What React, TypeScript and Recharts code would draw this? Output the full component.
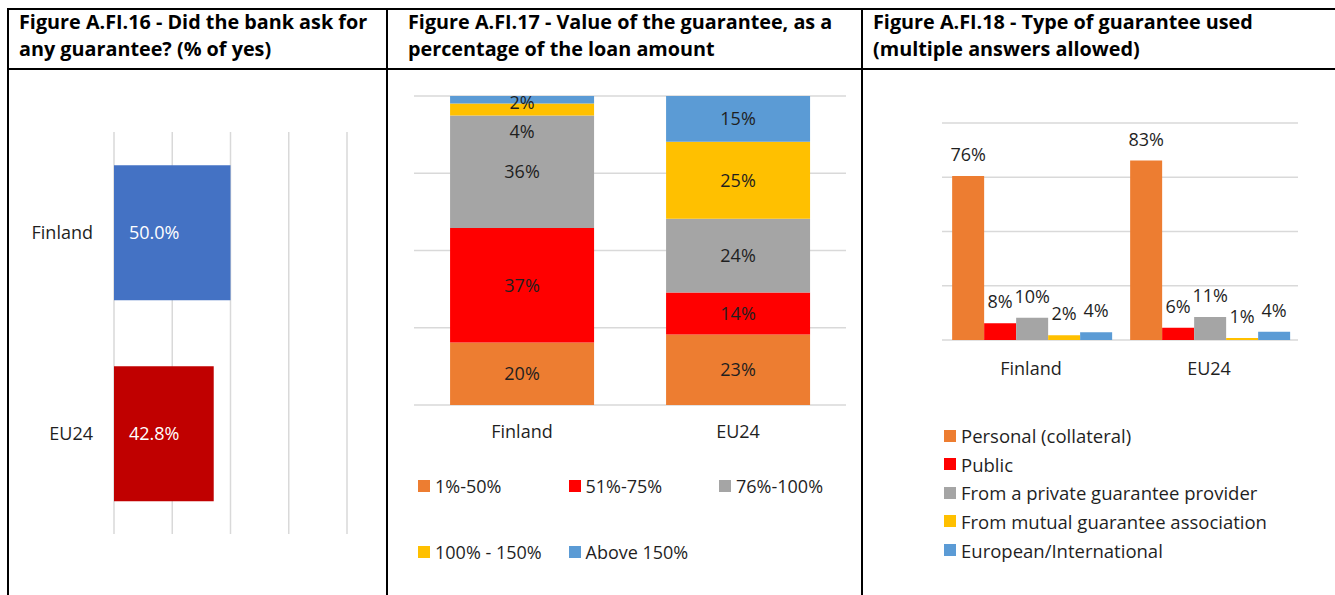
import React from "react";
import { BarChart, Bar, XAxis, YAxis, CartesianGrid, LabelList, Cell } from "recharts";

// Figure A.FI.16 - share of firms asked for a guarantee
const askCountries = ["Finland", "EU24"];
const askYes = [50.0, 42.8];
const askColors = ["#4472C4", "#C00000"];

// Figure A.FI.17 - guarantee value as share of loan
const valueCountries = ["Finland", "EU24"];
const valueBands = ["1%-50%", "51%-75%", "76%-100%", "100% - 150%", "Above 150%"];
const valueFinland = [20.2, 37.1, 36.4, 3.9, 2.4];
const valueEU24 = [22.8, 13.6, 23.9, 24.9, 14.8];

// Figure A.FI.18 - type of guarantee
const typeCountries = ["Finland", "EU24"];
const typeNames = [
  "Personal (collateral)",
  "Public",
  "From a private guarantee provider",
  "From mutual guarantee association",
  "European/International",
];
const typeFinland = [75.6, 7.7, 10.2, 2.2, 3.6];
const typeEU24 = [82.7, 5.7, 10.6, 0.9, 3.8];

const percentTicks = [0, 25, 50, 75, 100];
const seriesColors = ["#ED7D31", "#FF0000", "#A5A5A5", "#FFC000", "#5B9BD5"];

const GRID = "#d9d9d9";
const TEXT = "#1f1f1f";

const askData = askCountries.map((name, i) => ({ name, value: askYes[i] }));

const valueRows = [valueFinland, valueEU24];
const valueData = valueCountries.map((name, i) => {
  const row: Record<string, any> = { name };
  valueBands.forEach((_, j) => (row["v" + j] = valueRows[i][j]));
  return row;
});

const typeRows = [typeFinland, typeEU24];
const typeData = typeCountries.map((name, i) => {
  const row: Record<string, any> = { name };
  typeNames.forEach((_, j) => (row["t" + j] = typeRows[i][j]));
  return row;
});

// Excel pushed the small Finland labels apart, mimic that
const stackNudge = (series: number, index: number) => {
  if (index !== 0) return 0;
  if (series === 4) return 3;
  if (series === 3) return 22;
  return 0;
};

const stackLabel = (series: number) => (props: any) => {
  const { x, y, width, height, value, index } = props;
  const cy = Number(y) + Number(height) / 2 + stackNudge(series, index);
  return (
    <text
      x={Number(x) + Number(width) / 2}
      y={cy}
      dy="0.35em"
      textAnchor="middle"
      fill={TEXT}
      fontSize={18}
    >
      {Math.round(Number(value))}%
    </text>
  );
};

function Line({ left, top, width, height }: { left: number; top: number; width: number; height: number }) {
  return <div style={{ position: "absolute", left, top, width, height, background: "#000" }} />;
}

function Title({ left, lines }: { left: number; lines: string[] }) {
  return (
    <div
      style={{
        position: "absolute",
        left,
        top: 8,
        fontWeight: 700,
        fontSize: 19.8,
        lineHeight: "27px",
        color: "#000",
        whiteSpace: "nowrap",
      }}
    >
      {lines.map((l) => (
        <div key={l}>{l}</div>
      ))}
    </div>
  );
}

function Swatch({ color }: { color: string }) {
  return <span style={{ display: "inline-block", width: 12, height: 12, background: color, marginRight: 5 }} />;
}

export default function App() {
  return (
    <div
      style={{
        position: "absolute",
        left: 0,
        top: 0,
        width: 1335,
        height: 595,
        overflow: "hidden",
        background: "#fff",
        fontFamily: "'Open Sans', sans-serif",
      }}
    >
      {/* table frame */}
      <Line left={7} top={8} width={1340} height={2} />
      <Line left={7} top={68} width={1340} height={2} />
      <Line left={7} top={8} width={2} height={600} />
      <Line left={386} top={8} width={2} height={600} />
      <Line left={861} top={8} width={2} height={600} />

      <Title left={19} lines={["Figure A.FI.16 - Did the bank ask for", "any guarantee? (% of yes)"]} />
      <Title left={408} lines={["Figure A.FI.17 - Value of the guarantee, as a", "percentage of the loan amount"]} />
      <Title left={873} lines={["Figure A.FI.18 - Type of guarantee used", "(multiple answers allowed)"]} />

      {/* A.FI.16 */}
      <div style={{ position: "absolute", left: 10, top: 120 }}>
        <BarChart
          width={350}
          height={430}
          data={askData}
          layout="vertical"
          margin={{ top: 12, right: 13, bottom: 16, left: 0 }}
          barCategoryGap="16.5%"
        >
          <CartesianGrid horizontal={false} stroke={GRID} strokeWidth={1.5} />
          <XAxis type="number" domain={[0, 100]} ticks={percentTicks} hide />
          <YAxis
            type="category"
            dataKey="name"
            width={104}
            axisLine={false}
            tickLine={false}
            tickSize={0}
            tickMargin={21}
            tick={{ fill: TEXT, fontSize: 18 }}
          />
          <Bar dataKey="value" isAnimationActive={false}>
            {askData.map((_, i) => (
              <Cell key={i} fill={askColors[i]} />
            ))}
            <LabelList
              dataKey="value"
              position="insideLeft"
              offset={15}
              fill="#fff"
              fontSize={18}
              formatter={(v: any) => Number(v).toFixed(1) + "%"}
            />
          </Bar>
        </BarChart>
      </div>

      {/* A.FI.17 */}
      <div style={{ position: "absolute", left: 380, top: 80 }}>
        <BarChart
          width={480}
          height={370}
          data={valueData}
          margin={{ top: 16, right: 14, bottom: 5, left: 34 }}
          barCategoryGap="16.7%"
        >
          <CartesianGrid vertical={false} stroke={GRID} strokeWidth={1.5} />
          <YAxis domain={[0, 100]} ticks={percentTicks} hide />
          <XAxis
            dataKey="name"
            height={40}
            axisLine={false}
            tickLine={false}
            tickSize={0}
            tickMargin={20}
            tick={{ fill: TEXT, fontSize: 18 }}
          />
          {valueBands.map((b, j) => (
            <Bar key={b} dataKey={"v" + j} stackId="a" fill={seriesColors[j]} isAnimationActive={false}>
              <LabelList dataKey={"v" + j} content={stackLabel(j)} />
            </Bar>
          ))}
        </BarChart>
      </div>
      <div
        style={{
          position: "absolute",
          left: 418,
          top: 474,
          display: "grid",
          gridTemplateColumns: "150.5px 150.5px 150.5px",
          rowGap: 43,
          fontSize: 18,
          color: TEXT,
        }}
      >
        {valueBands.map((b, j) => (
          <div key={b} style={{ display: "flex", alignItems: "center", height: 23, whiteSpace: "nowrap" }}>
            <Swatch color={seriesColors[j]} />
            {b}
          </div>
        ))}
      </div>

      {/* A.FI.18 */}
      <div style={{ position: "absolute", left: 860, top: 80 }}>
        <BarChart
          width={470}
          height={320}
          data={typeData}
          margin={{ top: 43, right: 32, bottom: 20, left: 82 }}
          barCategoryGap="5.7%"
          barGap={0}
        >
          <CartesianGrid vertical={false} stroke={GRID} strokeWidth={1.5} />
          <YAxis domain={[0, 100]} ticks={percentTicks} hide />
          <XAxis
            dataKey="name"
            height={40}
            axisLine={false}
            tickLine={false}
            tickSize={0}
            tickMargin={22}
            tick={{ fill: TEXT, fontSize: 18 }}
          />
          {typeNames.map((t, j) => (
            <Bar key={t} dataKey={"t" + j} fill={seriesColors[j]} isAnimationActive={false}>
              <LabelList
                dataKey={"t" + j}
                position="top"
                offset={15}
                fill={TEXT}
                fontSize={18}
                formatter={(v: any) => Math.round(Number(v)) + "%"}
              />
            </Bar>
          ))}
        </BarChart>
      </div>
      <div style={{ position: "absolute", left: 944, top: 421.4, fontSize: 18.5, color: TEXT }}>
        {typeNames.map((t, j) => (
          <div key={t} style={{ display: "flex", alignItems: "center", height: 28.6, whiteSpace: "nowrap" }}>
            <Swatch color={seriesColors[j]} />
            {t}
          </div>
        ))}
      </div>
    </div>
  );
}
